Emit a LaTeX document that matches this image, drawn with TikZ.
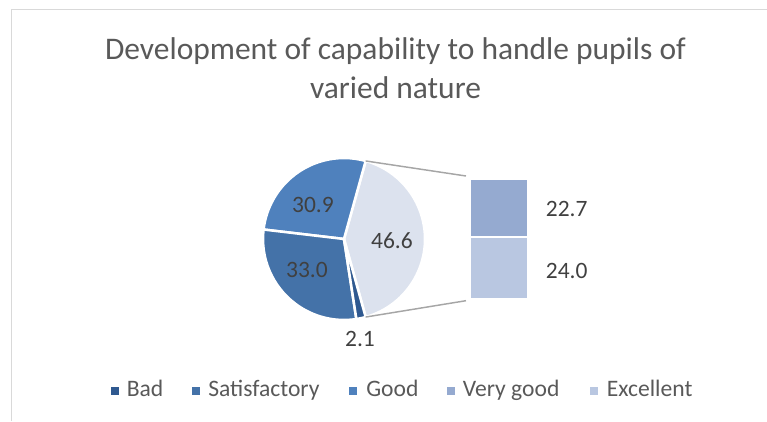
\documentclass[tikz,border=0pt]{standalone}
\usepackage{fontspec}
\setmainfont{Carlito}
\usepackage{tikz}
\usetikzlibrary{positioning,calc}
\definecolor{badc}{HTML}{2F5990}
\definecolor{satc}{HTML}{4472A8}
\definecolor{goodc}{HTML}{4F81BD}
\definecolor{otherc}{HTML}{DCE2EE}
\definecolor{vgoodc}{HTML}{95AAD0}
\definecolor{excc}{HTML}{B9C7E1}
\definecolor{labc}{HTML}{404040}
\definecolor{titc}{HTML}{595959}
\definecolor{framec}{HTML}{D9D9D9}
\definecolor{linkc}{HTML}{A6A6A6}
\tikzstyle{slice} = [draw=white, line width=1.9pt, line join=round]
\tikzstyle{title} = [anchor=base, text=titc, inner sep=0pt,
    font=\fontsize{23.6}{28}\selectfont]
\tikzstyle{value} = [text=labc, inner sep=0pt, font=\fontsize{17.6}{21}\selectfont]
\tikzstyle{legmark} = [rectangle, inner sep=0pt, minimum size=6pt]
\tikzstyle{legtext} = [anchor=base west, text=titc, inner sep=0pt,
    font=\fontsize{17.7}{21}\selectfont]
\tikzstyle{link} = [draw=linkc, line width=1.1pt]

\begin{document}
\begin{tikzpicture}[x=0.75pt, y=0.75pt]
    \useasboundingbox (0,0) rectangle (767,421);
    % Frame
    \draw [framec, line width=1.2pt] (11.5,0) -- (11.5,411.5) -- (767,411.5);
    % Title
    \node [title] (title1) at (395.5,361) {Development of capability to handle pupils of};
    \node [title] (title2) at (395.5,322) {varied nature};
    % Pie slices
    \coordinate (pie) at (344,182);
    \filldraw [slice, fill=otherc] (pie) -- ++(-74.49:81) arc (-74.49:74.49:81) -- cycle;
    \filldraw [slice, fill=goodc] (pie) -- ++(74.49:81) arc (74.49:173.28:81) -- cycle;
    \filldraw [slice, fill=satc] (pie) -- ++(173.28:81) arc (173.28:278.79:81) -- cycle;
    \filldraw [slice, fill=badc] (pie) -- ++(278.79:81) arc (278.79:285.51:81) -- cycle;
    % Bar
    \filldraw [slice, fill=vgoodc] (470,184) rectangle (528,242);
    \filldraw [slice, fill=excc] (470,122) rectangle (528,184);
    % Place nodes
    \node [value] (good) at (313,216.3) {30.9};
    \node [value] (sat) at (307,151) {33.0};
    \node [value] (other) at (392,180) {46.6};
    \node [value] (bad) at (360,82) {2.1};
    \node [value] (vgood) at (566.7,212) {22.7};
    \node [value] (exc) at (566.7,150) {24.0};
    % Draw edges
    \coordinate (othertop) at ($(pie)+(74.49:81)$);
    \coordinate (otherbot) at ($(pie)+(-74.49:81)$);
    \coordinate (bartop) at (466,245);
    \coordinate (barbot) at (466,120.3);
    \path [link] (othertop) -- (bartop);
    \path [link] (otherbot) -- (barbot);
    % Legend
    \node [legmark, fill=badc] (mbad) at (115,30.3) {};
    \node [legtext] (tbad) at (126.5,24.3) {Bad};
    \node [legmark, fill=satc] (msat) at (196,30.3) {};
    \node [legtext] (tsat) at (208,24.3) {Satisfactory};
    \node [legmark, fill=goodc] (mgood) at (353,30.3) {};
    \node [legtext] (tgood) at (366,24.3) {Good};
    \node [legmark, fill=vgoodc] (mvgood) at (451,30.3) {};
    \node [legtext] (tvgood) at (462.6,24.3) {Very good};
    \node [legmark, fill=excc] (mexc) at (594,30.3) {};
    \node [legtext] (texc) at (606.6,24.3) {Excellent};
\end{tikzpicture}
\end{document}
